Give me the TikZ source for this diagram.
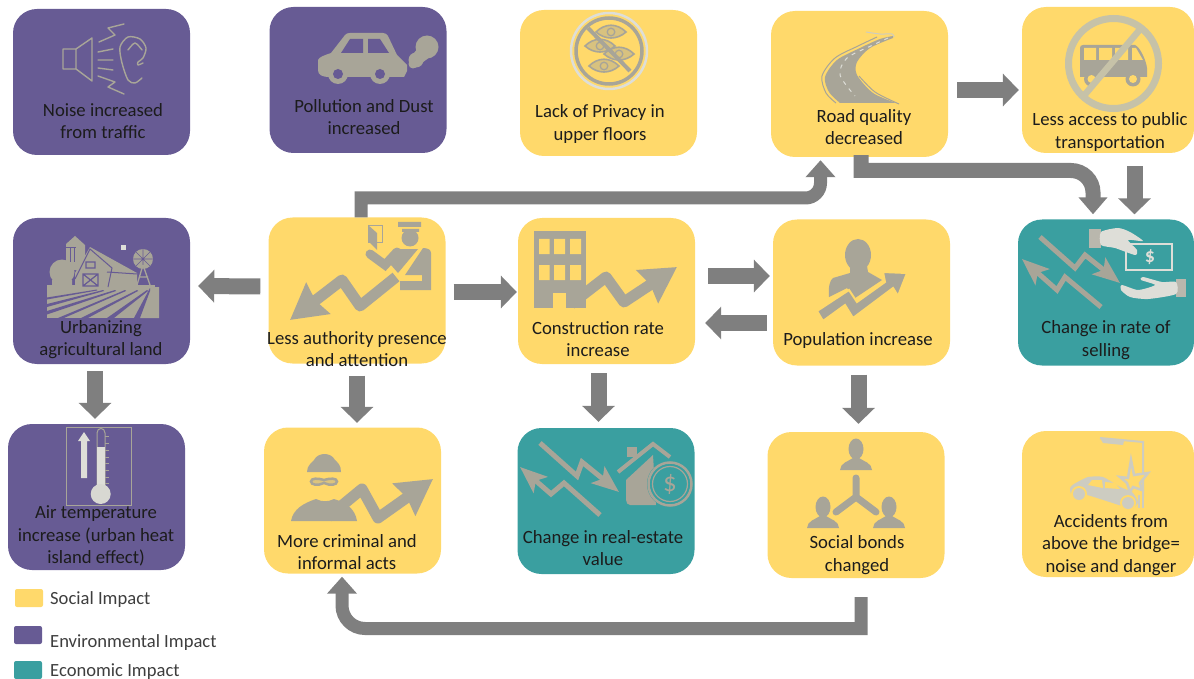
\documentclass[tikz,border=0pt]{standalone}
\usepackage{fontspec}
\setmainfont{Carlito}
\usetikzlibrary{arrows.meta}
\definecolor{yel}{HTML}{FFD96B}
\definecolor{pur}{HTML}{675B94}
\definecolor{tea}{HTML}{3A9FA0}
\definecolor{arr}{HTML}{7F7F7F}
\definecolor{ic}{HTML}{A8A598}
\definecolor{icl}{HTML}{DEDED8}
\definecolor{ics}{HTML}{CDCCC1}
\definecolor{nog}{HTML}{C6C2A8}
\definecolor{txt}{HTML}{1C1C1C}
\newcommand{\pers}[2]{%
  \fill[ic] (#1,#2) ellipse (7.5 and 10.5);
  \fill[ic] (#1-16,#2+21) .. controls (#1-16,#2+14) and (#1-7,#2+12) .. (#1-3,#2+9) -- (#1+3,#2+9) .. controls (#1+7,#2+12) and (#1+16,#2+14) .. (#1+16,#2+21) -- cycle;}
\tikzset{
  box/.style={fill=#1,draw=none,rounded corners=24pt,minimum width=177pt,minimum height=146pt,inner sep=0pt},
  lbl/.style={align=center,font=\fontsize{18.7}{22.3}\selectfont,text=txt,inner sep=0pt},
  leg/.style={anchor=west,font=\fontsize{18.6}{20}\selectfont,text=txt!85,inner sep=0pt},
  swatch/.style={fill=#1,draw=none,rounded corners=2pt,minimum width=28pt,minimum height=18pt,inner sep=0pt},
  barrow/.style={draw=arr,line width=16pt,-{Triangle[length=16pt,width=32pt]}},
  bent/.style={draw=arr,line width=13pt,-{Triangle[length=17pt,width=29pt]}},
  zig/.style={draw=ic,line width=#1,line join=round},
  zig/.default=9pt,
  bigzig/.style={draw=ic,line width=11pt,line join=round,-{Stealth[length=35pt,width=38pt,inset=3pt]}},
  smallzig/.style={draw=ic,line width=5pt,line join=miter,-{Stealth[length=27pt,width=21pt,inset=6pt]}},
  thin icon/.style={draw=ic,line width=1.4pt,line join=round,line cap=round},
}
\begin{document}
\begin{tikzpicture}[x=1pt,y=-1pt]
\useasboundingbox (0,0) rectangle (1194,679);
% ---------- connectors that run behind the boxes
\coordinate (roadTipBase) at (820.5,198);
% ---------- boxes
\node[box=pur] (noise) at (101.5,82) {};
\node[box=pur] (pollution) at (358,80) {};
\node[box=yel] (privacy) at (608.5,83) {};
\node[box=yel] (road) at (859.5,84) {};
\node[box=yel,minimum width=172pt] (bus) at (1108,80) {};
\node[box=pur] (farm) at (101.5,291) {};
\node[box=yel] (authority) at (357,290.5) {};
\node[box=yel] (construction) at (606.5,291) {};
\node[box=yel] (population) at (861.5,292.5) {};
\node[box=tea,minimum width=176pt] (selling) at (1106,292.5) {};
\node[box=pur] (thermo) at (96.5,497) {};
\node[box=yel] (criminal) at (352.5,500.5) {};
\node[box=tea] (realestate) at (606,501) {};
\node[box=yel] (social) at (856,505) {};
\node[box=yel,minimum width=172pt] (accidents) at (1108,504) {};
% ---------- connectors
\draw[barrow] ([shift={(9,6)}]road.east) -- ([shift={(-3,10)}]bus.west);
\draw[barrow] ([shift={(-8,-4)}]authority.west) -- ([shift={(8,-5)}]farm.east);
\draw[barrow] ([shift={(8,1.5)}]authority.east) -- ([shift={(-1,1)}]construction.west);
\draw[barrow] ([shift={(13,-15)}]construction.east) -- ([shift={(-3,-16.5)}]population.west);
\draw[barrow] ([shift={(-6,30.5)}]population.west) -- ([shift={(10,32)}]construction.east);
\draw[barrow] ([shift={(-6.5,7)}]farm.south) -- ([shift={(-1.5,-5)}]thermo.north);
\draw[barrow] ([shift={(0,12)}]authority.south) -- ([shift={(4.5,-4.5)}]criminal.north);
\draw[barrow] ([shift={(-8,9)}]construction.south) -- ([shift={(-7.5,-6)}]realestate.north);
\draw[barrow] ([shift={(-3,9)}]population.south) -- ([shift={(2.5,-8)}]social.north);
\draw[barrow] ([shift={(26.5,13)}]bus.south) -- ([shift={(28.5,-5)}]selling.north);
\draw[bent] ([shift={(4,0)}]authority.north) -- (361,198) [rounded corners=15pt] -- (820.5,198) -- ([shift={(-39,3)}]road.south);
\draw[bent,line width=15pt,-{Triangle[length=17pt,width=28pt]}] ([shift={(1.5,-2)}]road.south) -- (861,170.5) [rounded corners=22pt] -- (1093,170.5) -- ([shift={(-13,-5)}]selling.north);
\draw[bent] ([shift={(5,19)}]social.south) -- (861,628.5) [rounded corners=23pt] -- (342,628.5) -- ([shift={(-10.5,3)}]criminal.south);
% ---------- texts
\node[lbl] (noiseT) at (103,121) {Noise increased\\from traffic};
\node[lbl] (pollutionT) at (364,117) {Pollution and Dust\\increased};
\node[lbl] (privacyT) at (600,124) {Lack of Privacy in\\upper floors};
\node[lbl] (roadT) at (864,127) {Road quality\\decreased};
\node[lbl] (busT) at (1110,132) {Less access to public\\transportation};
\node[lbl] (farmT) at (101,339.5) {Urbanizing\\agricultural land};
\node[lbl] (authorityT) at (357,349) {Less authority presence\\and attention};
\node[lbl] (constructionT) at (598,339) {Construction rate\\increase};
\node[lbl] (populationT) at (858,340.5) {Population increase};
\node[lbl] (sellingT) at (1106,340) {Change in rate of\\selling};
\node[lbl] (thermoT) at (96,536) {Air temperature\\increase (urban heat\\island effect)};
\node[lbl] (criminalT) at (347,552) {More criminal and\\informal acts};
\node[lbl] (realestateT) at (603,548) {Change in real-estate\\value};
\node[lbl] (socialT) at (857,555) {Social bonds\\changed};
\node[lbl] (accidentsT) at (1111,545) {Accidents from\\above the bridge=\\noise and danger};
% ---------- legend
\node[swatch=yel] (s1) at (29,598) {};
\node[swatch=pur] (s2) at (28,635) {};
\node[swatch=tea] (s3) at (28,670) {};
\node[leg] (l1) at (50,599.5) {Social Impact};
\node[leg] (l2) at (50,642.5) {Environmental Impact};
\node[leg] (l3) at (50,671.5) {Economic Impact};
% ---------- icon: noise
\draw[thin icon] (63,49) rectangle (76,69) (76,49) -- (92,38) -- (92,81) -- (76,69);
\draw[thin icon] (99,42) -- (115,35) -- (108,28) -- (124,24);
\draw[thin icon] (98,52) -- (113,49) (98,60) -- (113,60) (98,68) -- (113,70);
\draw[thin icon] (98,76) -- (115,82) -- (108,87) -- (124,94);
\draw[thin icon] plot[smooth] coordinates {(142,78) (135,83) (128,80) (122,63) (120,47) (128,37) (140,39) (146,48) (143,58) (138,62) (138,65) (143,63)};
\draw[thin icon] plot[smooth] coordinates {(128,50) (135,43) (142,50)};
% ---------- icon: car
\fill[ic] (318,60) .. controls (319,57) and (325,55) .. (331,53) -- (345,35) .. controls (346,33.5) and (348,33) .. (350,33) -- (383,33) .. controls (385,33) and (387,34) .. (388,36) -- (397,55) -- (407,65) -- (407,71) -- (404,77) -- (330,77) .. controls (322,77) and (318,75) .. (318,70) -- cycle;
\fill[ic] (338,74) circle (10) (380,74) circle (10);
\fill[pur] (338,74) circle (5) (380,74) circle (5);
\fill[pur] (341,53) -- (350,39) -- (363,39) -- (363,53) -- cycle (368,39) -- (380,39) -- (389,53) -- (368,53) -- cycle;
\fill[ic] (427,47) circle (11.5) (416,60) circle (7.5) (413,64) circle (4.5);
\fill[ic] (418,48) -- (430,57) -- (415,68) -- (410,58) -- cycle;
% ---------- icon: privacy
\draw[icl,line width=2.5pt] (609,51) circle (38);
\draw[ic,line width=3.5pt] (609,51) circle (33);
\foreach \ex/\ey in {611/32,600/46,619/54,604/66}{
  \draw[ic,line width=1.6pt,fill=ic!45!yel] (\ex-15,\ey) .. controls (\ex-6,\ey-9) and (\ex+6,\ey-9) .. (\ex+15,\ey) .. controls (\ex+6,\ey+8) and (\ex-6,\ey+8) .. cycle;
  \draw[ic,line width=1.3pt] (\ex,\ey) circle (3.8);
}
\draw[ic,line width=4pt] (588,28) -- (630,71);
% ---------- icon: road
\fill[ic] plot[smooth] coordinates {(893,36) (880,39) (860,48) (837,60) (825,77) (829,92) (840,103)} -- plot[smooth] coordinates {(896,103) (873,93) (857,75) (857,62) (870,48) (893,38)} -- cycle;
\draw[ics,line width=1pt] plot[smooth] coordinates {(866,32) (880,34) (892,34) (894,37)};
\draw[ic,line width=1pt] plot[smooth] coordinates {(877,37) (858,46) (835,58) (822,76) (826,93) (836,103)};
\draw[ic,line width=1pt] plot[smooth] coordinates {(899,104) (875,92) (859,76)};
\draw[icl,line width=1pt,dash pattern=on 4pt off 5pt] plot[smooth] coordinates {(888,38) (873,45) (847,58) (840,75) (855,96)};
% ---------- icon: bus
\fill[ic] (1080,48) .. controls (1080,46) and (1081,45) .. (1083,45) -- (1135,45) .. controls (1140,47) and (1146,60) .. (1147,68) -- (1147,77) -- (1080,77) -- cycle;
\fill[yel] (1084,48) rectangle (1096,60) (1099,48) rectangle (1112,60) (1115,48) rectangle (1128,60);
\fill[yel] (1132,48) -- (1136,48) -- (1143,60) -- (1132,60) -- cycle;
\fill[ic] (1091.5,79) circle (7.5) (1133,79) circle (7.5);
\fill[yel] (1091.5,79) circle (4) (1133,79) circle (4);
\draw[nog,line width=7pt] (1113.5,63.5) circle (45);
\draw[nog,line width=6.5pt] (1142,27) -- (1082,98);
% ---------- icon: selling
\draw[smallzig] (1040,237) -- (1075,268) -- (1085,255) -- (1120,283);
\draw[smallzig] (1101,307) -- (1065,277) -- (1057,290) -- (1022,259);
\draw[icl,line width=1.5pt] (1126,244) rectangle (1172,270);
\node[text=icl,font=\bfseries\fontsize{20}{20}\selectfont,inner sep=0pt] (d1) at (1150,257) {\$};
\fill[ic!80!white] (1089,229) rectangle (1101,248);
\fill[icl] plot[smooth cycle,tension=.4] coordinates {(1101,232) (1118,228) (1130,232) (1143,241) (1128,240) (1137,250) (1135,255) (1115,248) (1101,245)};
\fill[ic!80!white] (1176,279) rectangle (1186,297);
\fill[icl] plot[smooth cycle,tension=.4] coordinates {(1176,282) (1162,282) (1143,277) (1141,280) (1155,285) (1138,290) (1122,285) (1121,290) (1130,297) (1148,299) (1176,294)};
% ---------- icon: farm
\fill[ic] (47,285) rectangle (155,318);
\fill[ic] (150,287) -- (159,287) -- (159,318) -- (140,318) -- cycle;
\fill[ic] (66,244) -- (75,236) -- (85,245) -- (85,270) -- (66,270) -- cycle;
\fill[ic] (62,272) circle (12.5) (52,285) rectangle (72,280);
\fill[ic] (75,273) -- (90,247) -- (137,273) -- (137,285) -- (75,287) -- cycle;
\draw[pur,line width=1pt] (75,279) -- (90,249) -- (112,268) -- (108,287) (107,272) -- (137,274);
\draw[pur,line width=1.2pt] (83,274) rectangle (98,286) (83,274) -- (98,286) (98,274) -- (83,286) (86,262) rectangle (95,268);
\draw[pur,line width=1pt] (70,247) -- (70,262) (74,247) -- (74,262) (66,247) -- (76,247);
\fill[ic] (143,259) circle (10);
\draw[pur,line width=.6pt] (143,249) -- (143,269) (133,259) -- (153,259) (136,252) -- (150,266) (150,252) -- (136,266);
\draw[ic,line width=1.3pt] (143,265) -- (137,285) (143,265) -- (150,285) (139,277) -- (148,277);
\fill[pur] (47,297.5) -- (97,289.5) -- (97,290.5) -- (47,299.5) -- cycle (47,304) -- (103,290) -- (104,291) -- (47,307) -- cycle (47,311) -- (115,290) -- (116,291) -- (47,314.5) -- cycle;
\fill[pur] (58,318) -- (125,290) -- (126,291) -- (64,318) -- cycle (81,318) -- (137,290) -- (138,291) -- (88,318) -- cycle (107,318) -- (147,290) -- (148,291) -- (114,318) -- cycle (134,318) -- (150,288) -- (150,291) -- (140,318) -- cycle;
\fill[icl] (121,245) rectangle (126,250);
% ---------- icon: officer
\draw[ic,line width=.7pt] (368,225) rectangle (382,242);
\fill[ic] (368,225) -- (377,233) -- (377,250) -- (368,241) -- cycle;
\fill[ic] (398,222) rectangle (421,227) (402,229) rectangle (419,232);
\fill[ic] (410,238) circle (8.5);
\fill[ic] (397,249) -- (418,249) -- (398,273) -- (391,265) -- cycle;
\draw[ic,line width=9pt,line cap=round] (370,254) -- (385,265) -- (397,252);
\fill[ic] (423,248) .. controls (428,248) and (431,250) .. (431,253) -- (431,290) -- (400,290) -- (400,281) -- (422,281) -- (422,275) -- (405,275) -- cycle;
\draw[bigzig] (396,277) -- (360,306) -- (342,280) -- (290,320);
% ---------- icon: construction
\fill[ic] (534,231) rectangle (585.5,308);
\fill[yel] (539,239) rectangle (549.5,254) (554,239) rectangle (565,254) (570,239) rectangle (581,254);
\fill[yel] (539,265) rectangle (549.5,280) (554,265) rectangle (565,280) (570,265) rectangle (581,280);
\fill[yel] (553,293) rectangle (566,308);
\draw[bigzig] (571,304) -- (606,277) -- (624,302) -- (677,267);
% ---------- icon: population
\fill[ic] (858,255) ellipse (13 and 16);
\fill[ic] (850,266) -- (867,266) -- (868,272) -- (882,280) -- (855,298) -- (847,288) -- (829,297) .. controls (828,287) and (830,280) .. (833,278) -- (850,273) -- cycle;
\fill[ic,draw=yel,line width=2pt,line join=miter] (817,311) -- (849,290) -- (857,302) -- (885,282) -- (883,272) -- (907,273) -- (898,296) -- (893,288) -- (853,318) -- (845,305) -- (823,321) -- cycle;
% ---------- icon: thermometer
\draw[ic,line width=1pt] (66,427) rectangle (131,505);
\fill[icl] (78,441) -- (84,432) -- (90,441) -- (87,441) -- (87,478) -- (81,478) -- (81,441) -- cycle;
\draw[ic,line width=1pt] (97,495) -- (97,433) .. controls (97,427) and (105,427) .. (105,433) -- (105,495);
\fill[icl] (97,447) rectangle (105,492);
\fill[icl!90!ic] (100.7,494) circle (10);
\foreach \ty in {436,443,450,457,463,470,477,483}{\draw[ic,line width=.8pt] (105,\ty) -- (109,\ty);}
% ---------- icon: criminal
\fill[ic] (307,472) .. controls (307,465) and (312,463) .. (314,460) .. controls (318,452) and (331,452) .. (335,460) .. controls (338,463) and (341,465) .. (341,472) -- cycle;
\draw[ic,line width=2.5pt,fill=ic!40!yel] (311,481.5) .. controls (311,478) and (318,478) .. (324,480) .. controls (330,478) and (337,478) .. (337,481.5) .. controls (337,485) and (330,486) .. (324,483) .. controls (318,486) and (311,485) .. (311,481.5) -- cycle;
\fill[ic] (291,521) .. controls (293,509) and (304,503) .. (316,499) .. controls (322,502) and (328,502) .. (334,499) .. controls (347,503) and (355,509) .. (357,521) -- cycle;
\draw[bigzig] (328,517) -- (362,489) -- (378,518) -- (433,479);
% ---------- icon: real estate
\draw[smallzig] (540,443) -- (577,476) -- (582,462) -- (619,492);
\draw[smallzig] (600,515) -- (564,483) -- (551,494) -- (520,467);
\fill[ic] (627,447) rectangle (637,457);
\draw[ic,line width=4pt] (618,472) -- (653,444) -- (670,457);
\fill[ic] (626,480) -- (653,455) -- (656,505) -- (630,505) .. controls (628,505) and (626,503) .. (626,500) -- cycle;
\fill[tea] (670,484) circle (23);
\draw[ic,line width=2.5pt] (670,484) circle (21.5);
\draw[ic,line width=1.2pt] (670,484) circle (17.5);
\node[text=ic,font=\fontsize{27}{27}\selectfont,inner sep=0pt] (d2) at (670,484) {\$};
% ---------- icon: social
\pers{856}{449}
\pers{823}{507}
\pers{889}{507}
\draw[ic,line width=7pt,line cap=round,line join=round] (856,478) -- (856,497) -- (836,512) (856,497) -- (876,512);
% ---------- icon: accidents
\fill[ics] (1100,438) -- (1124,441) -- (1123,445) -- (1103,443) -- cycle;
\draw[ics,line width=2pt] (1100,438) -- (1143,442) -- (1143,497);
\draw[ics,line width=2pt] (1143,490) -- (1143,508) (1139,495) -- (1139,508);
\fill[ics] plot[smooth cycle,tension=.35] coordinates {(1070,488) (1074,484) (1088,477) (1103,477) (1120,487) (1132,492) (1138,502) (1133,508) (1122,506) (1087,495) (1072,495)};
\fill[yel] (1088,485) -- (1092,480) -- (1102,480) -- (1103,488) -- cycle (1105,482) -- (1115,483) -- (1120,489) -- (1105,488) -- cycle;
\fill[yel] (1079,494) circle (8) (1128,503) circle (8);
\fill[ics] (1079,494) circle (6) (1128,503) circle (6);
\draw[ics,line width=2.5pt,fill=yel,line join=miter] (1131,460) -- (1134,475) -- (1148,473) -- (1140,483) -- (1142,490) -- (1133,487) -- (1130,492) -- (1127,483) -- (1120,477) -- (1128,478) -- cycle;
\end{tikzpicture}
\end{document}
